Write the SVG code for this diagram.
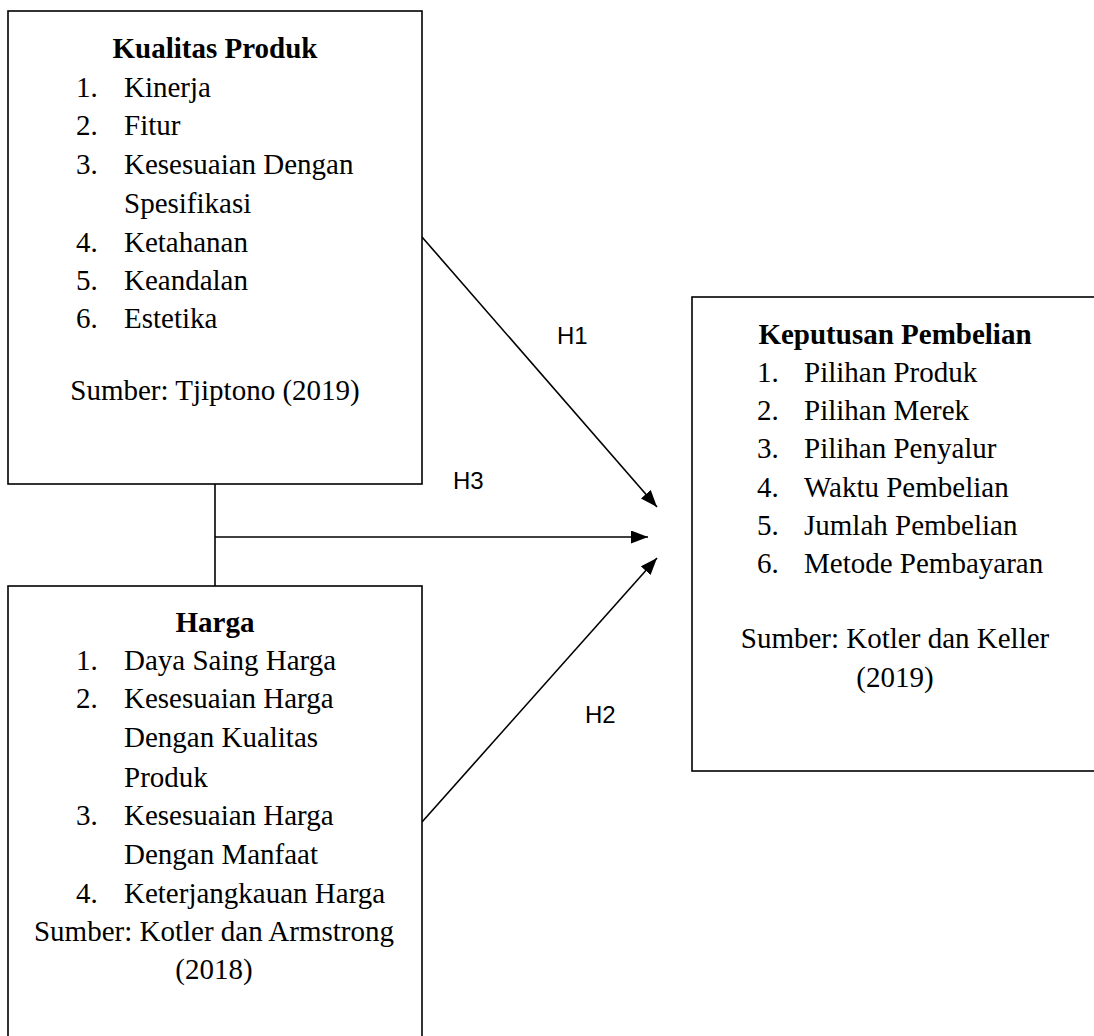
<svg xmlns="http://www.w3.org/2000/svg" width="1094" height="1036" viewBox="0 0 1094 1036">
<style>
.box{fill:#fff;stroke:#000;stroke-width:1.6}
.t{font-family:"Liberation Serif","Times New Roman",serif;font-size:29px;fill:#000}
.b{font-weight:bold}
.c{text-anchor:middle}
.h{font-family:"Liberation Sans",Arial,sans-serif;font-size:24px;fill:#000}
.ln{stroke:#000;stroke-width:1.6;fill:none}
</style>
<defs>
<marker id="ah" markerUnits="userSpaceOnUse" markerWidth="17" markerHeight="13" refX="17" refY="6.5" orient="auto">
<path d="M0,0 L17,6.5 L0,13 z" fill="#000"/>
</marker>
</defs>
<rect width="1094" height="1036" fill="#fff"/>
<g id="connectors">
<line class="ln" x1="215" y1="484" x2="215" y2="586"/>
<line class="ln" x1="215" y1="537" x2="648" y2="537" marker-end="url(#ah)"/>
<line class="ln" x1="422" y1="237" x2="657" y2="507" marker-end="url(#ah)"/>
<line class="ln" x1="422" y1="822" x2="657" y2="558" marker-end="url(#ah)"/>
<text class="h" x="557" y="344">H1</text>
<text class="h" x="453" y="489">H3</text>
<text class="h" x="585" y="723">H2</text>
</g>
<g id="kualitas-produk">
<rect class="box" x="8" y="11" width="414" height="473"/>
<text class="t b c" x="215" y="58">Kualitas Produk</text>
<text class="t" x="76" y="97">1.</text><text class="t" x="124" y="97">Kinerja</text>
<text class="t" x="76" y="135">2.</text><text class="t" x="124" y="135">Fitur</text>
<text class="t" x="76" y="174">3.</text><text class="t" x="124" y="174">Kesesuaian Dengan</text>
<text class="t" x="124" y="213">Spesifikasi</text>
<text class="t" x="76" y="252">4.</text><text class="t" x="124" y="252">Ketahanan</text>
<text class="t" x="76" y="290">5.</text><text class="t" x="124" y="290">Keandalan</text>
<text class="t" x="76" y="328">6.</text><text class="t" x="124" y="328">Estetika</text>
<text class="t c" x="215" y="400">Sumber: Tjiptono (2019)</text>
</g>
<g id="harga">
<rect class="box" x="8" y="586" width="414" height="460"/>
<text class="t b c" x="215" y="632">Harga</text>
<text class="t" x="76" y="670">1.</text><text class="t" x="124" y="670">Daya Saing Harga</text>
<text class="t" x="76" y="708">2.</text><text class="t" x="124" y="708">Kesesuaian Harga</text>
<text class="t" x="124" y="747">Dengan Kualitas</text>
<text class="t" x="124" y="787">Produk</text>
<text class="t" x="76" y="825">3.</text><text class="t" x="124" y="825">Kesesuaian Harga</text>
<text class="t" x="124" y="864">Dengan Manfaat</text>
<text class="t" x="76" y="903">4.</text><text class="t" x="124" y="903">Keterjangkauan Harga</text>
<text class="t c" x="214" y="941">Sumber: Kotler dan Armstrong</text>
<text class="t c" x="214" y="979">(2018)</text>
</g>
<g id="keputusan-pembelian">
<rect class="box" x="692" y="297" width="420" height="474"/>
<text class="t b c" x="895" y="344">Keputusan Pembelian</text>
<text class="t" x="757" y="382">1.</text><text class="t" x="804" y="382">Pilihan Produk</text>
<text class="t" x="757" y="420">2.</text><text class="t" x="804" y="420">Pilihan Merek</text>
<text class="t" x="757" y="458">3.</text><text class="t" x="804" y="458">Pilihan Penyalur</text>
<text class="t" x="757" y="497">4.</text><text class="t" x="804" y="497">Waktu Pembelian</text>
<text class="t" x="757" y="535">5.</text><text class="t" x="804" y="535">Jumlah Pembelian</text>
<text class="t" x="757" y="573">6.</text><text class="t" x="804" y="573">Metode Pembayaran</text>
<text class="t c" x="895" y="648">Sumber: Kotler dan Keller</text>
<text class="t c" x="895" y="687">(2019)</text>
</g>
</svg>
